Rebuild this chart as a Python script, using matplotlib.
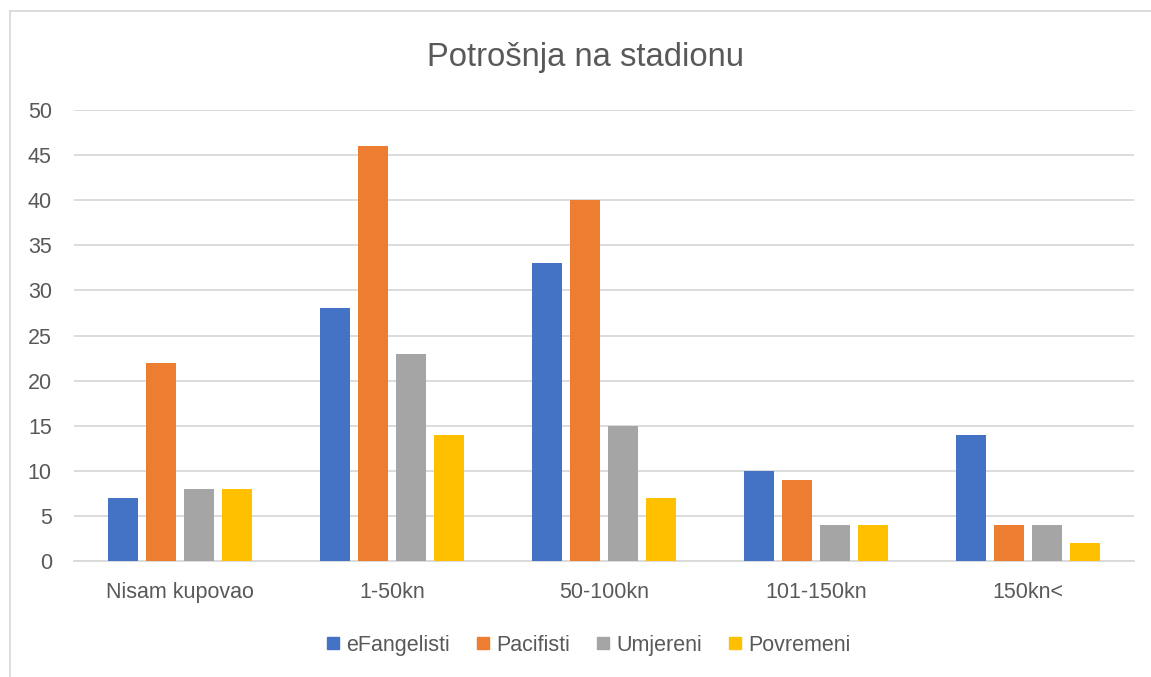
import numpy as np
import matplotlib.pyplot as plt
from matplotlib.lines import Line2D

plt.rcParams['font.family'] = ['Liberation Sans', 'DejaVu Sans']

# podaci s grafa
categories = ["Nisam kupovao", "1-50kn", "50-100kn", "101-150kn", "150kn<"]
efangelisti = [7, 28, 33, 10, 14]
pacifisti = [22, 46, 40, 9, 4]
umjereni = [8, 23, 15, 4, 4]
povremeni = [8, 14, 7, 4, 2]

series = [("eFangelisti", efangelisti, "#4472C4"),
          ("Pacifisti", pacifisti, "#ED7D31"),
          ("Umjereni", umjereni, "#A5A5A5"),
          ("Povremeni", povremeni, "#FFC000")]

txt = "#595959"
fig = plt.figure(figsize=(11.51, 6.77), dpi=100)
ax = fig.add_axes([0.0643, 0.1713, 0.9207, 0.6662])

x = np.arange(len(categories))
w = 0.1415
step = 0.18
for i, (name, vals, col) in enumerate(series):
    ax.bar(x + (i - 1.5) * step, vals, width=w, color=col, label=name, zorder=3)

ax.set_xlim(-0.5, len(categories) - 0.5)
ax.set_ylim(0, 50)
ax.set_yticks(range(0, 51, 5))
ax.set_xticks(x)
ax.set_xticklabels(categories)
ax.grid(axis='y', color='#D9D9D9', linewidth=1.3, zorder=0)
for s in ['top', 'right', 'left']:
    ax.spines[s].set_visible(False)
ax.spines['bottom'].set_color('#D9D9D9')
ax.spines['bottom'].set_linewidth(1.3)
ax.tick_params(axis='both', length=0, labelsize=15.5, colors=txt)
ax.tick_params(axis='x', pad=15)
ax.tick_params(axis='y', pad=16)

fig.text(0.509, 0.915, "Potrošnja na stadionu", ha='center', va='center',
         fontsize=23.6, color=txt)

handles = [Line2D([], [], marker='s', linestyle='', markersize=9,
                  markerfacecolor=c, markeredgecolor=c) for _, _, c in series]
fig.legend(handles, [n for n, _, _ in series], loc='center',
           bbox_to_anchor=(0.511, 0.047), ncol=4, frameon=False,
           fontsize=15.5, labelcolor=txt, handletextpad=0.25,
           columnspacing=1.2, handlelength=0.7)

# okvir grafikona (lijevo i gore)
fig.add_artist(Line2D([0.0085, 0.0085], [0.0, 0.984], color='#D9D9D9',
                      linewidth=1.3, transform=fig.transFigure))
fig.add_artist(Line2D([0.0085, 1.0], [0.984, 0.984], color='#D9D9D9',
                      linewidth=1.3, transform=fig.transFigure))

fig.savefig("out.png", dpi=100)
